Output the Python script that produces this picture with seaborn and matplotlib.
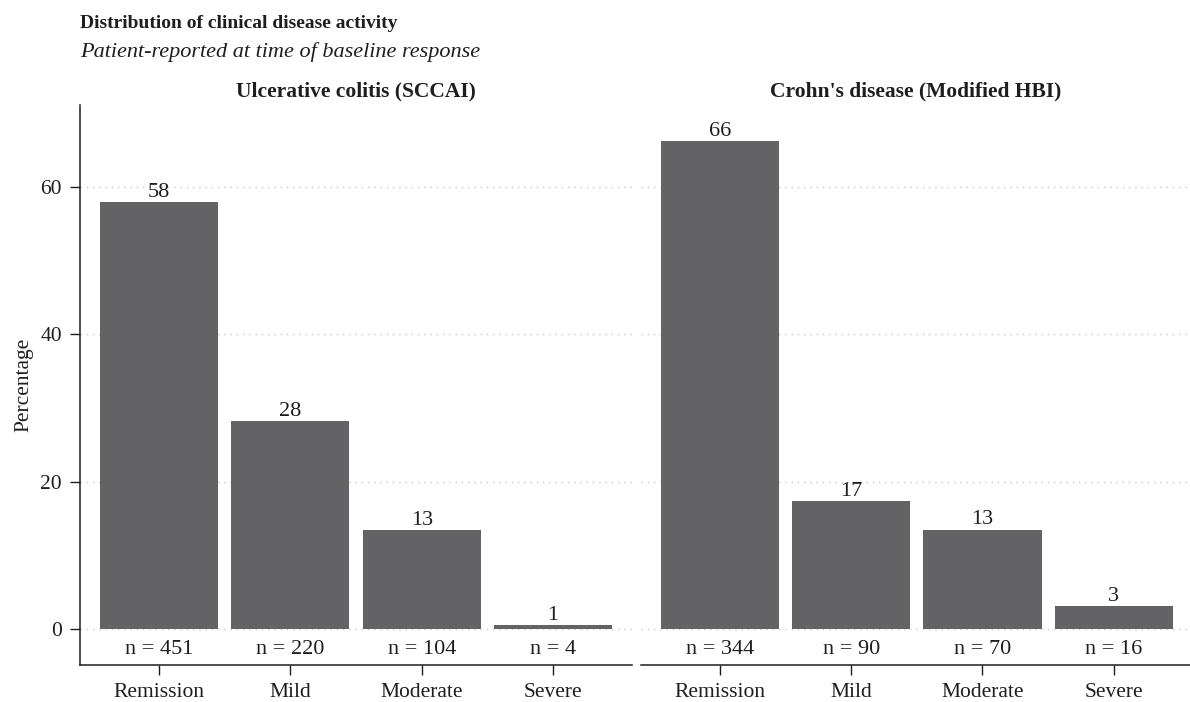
import matplotlib
matplotlib.use("Agg")
import matplotlib.pyplot as plt
import seaborn as sns
import pandas as pd

# ---- data ----
categories = ["Remission", "Mild", "Moderate", "Severe"]
panels = ["Ulcerative colitis (SCCAI)", "Crohn's disease (Modified HBI)"]
uc_pct = [57.9, 28.2, 13.4, 0.51]
uc_n = [451, 220, 104, 4]
cd_pct = [66.2, 17.3, 13.46, 3.08]
cd_n = [344, 90, 70, 16]
y_ticks = [0, 20, 40, 60]

title = "Distribution of clinical disease activity"
subtitle = "Patient-reported at time of baseline response"
y_label = "Percentage"

df = pd.DataFrame({
    "panel": [panels[0]] * 4 + [panels[1]] * 4,
    "category": categories * 2,
    "pct": uc_pct + cd_pct,
    "n": uc_n + cd_n,
})

sns.set_theme(style="white")
plt.rcParams["font.family"] = ["Liberation Serif", "DejaVu Serif"]
text_col = "#1e1e1e"
bar_col = "#636365"
plt.rcParams["text.color"] = text_col
plt.rcParams["axes.labelcolor"] = text_col
plt.rcParams["xtick.color"] = text_col
plt.rcParams["ytick.color"] = text_col

fig = plt.figure(figsize=(11.9, 7.02), dpi=100)
W, H = 1190, 702
ax_l = fig.add_axes([80 / W, 1 - 665 / H, 552 / W, 560 / H])
ax_r = fig.add_axes([641 / W, 1 - 665 / H, 549 / W, 560 / H])

for ax, panel, xr in [(ax_l, panels[0], 3.6), (ax_r, panels[1], 3.58)]:
    sub = df[df["panel"] == panel]
    sns.barplot(data=sub, x="category", y="pct", order=categories, ax=ax,
                color=bar_col, saturation=1, width=0.9, errorbar=None, zorder=2,
                linewidth=0, edgecolor=bar_col)
    ax.set_xlim(-0.6, xr)
    ax.set_ylim(-4.9, 71.1)
    ax.set_yticks(y_ticks)
    ax.set_xlabel("")
    ax.set_ylabel("")
    for yt in y_ticks:
        ax.axhline(yt, color="#c8c8c8", lw=1.0, linestyle=(0, (1, 3.5)), zorder=1)
    ax.grid(False)
    for i, (p, n) in enumerate(zip(sub["pct"], sub["n"])):
        ax.annotate(f"{p:.0f}", xy=(i, p), xytext=(0, 4), textcoords="offset points",
                    ha="center", va="baseline", fontsize=16, color=text_col)
        ax.text(i, -3.39, f"n = {n}", ha="center", va="baseline", fontsize=16,
                color=text_col)
    ax.set_title(panel, fontsize=15.5, fontweight="bold", pad=6, color=text_col)
    ax.tick_params(axis="x", length=7, width=1, pad=6, labelsize=15.5, bottom=True)
    for s in ["top", "right"]:
        ax.spines[s].set_visible(False)
    ax.spines["bottom"].set_color(text_col)
    ax.spines["bottom"].set_linewidth(1.1)

ax_l.spines["left"].set_color(text_col)
ax_l.spines["left"].set_linewidth(1.1)
ax_l.tick_params(axis="y", length=7, width=1, pad=6, labelsize=15.5, left=True)
ax_l.set_ylabel(y_label, fontsize=15.5, labelpad=5)

ax_r.spines["left"].set_visible(False)
ax_r.tick_params(axis="y", left=False, labelleft=False)

fig.text(80 / W, 1 - 28 / H, title, fontsize=14, fontweight="bold",
         ha="left", va="baseline", color=text_col)
fig.text(80 / W, 1 - 57 / H, subtitle, fontsize=16, fontstyle="italic",
         ha="left", va="baseline", color=text_col)

fig.savefig("out.png", dpi=100)
